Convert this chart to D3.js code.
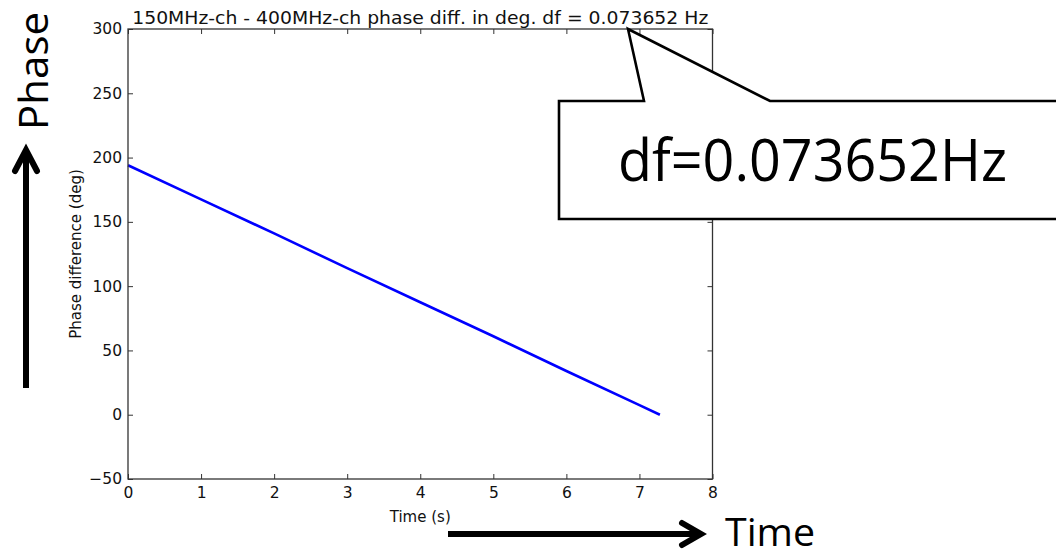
<!DOCTYPE html>
<html>
<head>
<meta charset="utf-8">
<script src="https://cdn.jsdelivr.net/npm/d3@7"></script>
<style>
  html, body { margin: 0; padding: 0; background: #fff; }
  svg { display: block; }
</style>
</head>
<body>
<svg id="chart" width="1056" height="559"></svg>
<script>
// Phase difference between the 150 MHz and 400 MHz channels over time
const timeSec = [0, 1, 2, 3, 4, 5, 6, 7, 7.28];
const phaseDeg = [194, 167.5, 141, 114, 87.5, 61, 34, 7.5, 0];

const xTicks = [0, 1, 2, 3, 4, 5, 6, 7, 8];
const yTicks = [-50, 0, 50, 100, 150, 200, 250, 300];

const titleText = "150MHz-ch - 400MHz-ch phase diff. in deg. df = 0.073652 Hz";
const xLabel = "Time (s)";
const yLabel = "Phase difference (deg)";
const calloutText = "df=0.073652Hz";
const sideLabelY = "Phase";
const sideLabelX = "Time";

const svg = d3.select("#chart");
svg.append("rect").attr("width", 1056).attr("height", 559).attr("fill", "#fff");

const plot = { left: 128, right: 712.5, top: 29, bottom: 479 };
const x = d3.scaleLinear().domain([0, 8]).range([plot.left, plot.right]);
const y = d3.scaleLinear().domain([-50, 300]).range([plot.bottom, plot.top]);

const tickFont = "'DejaVu Sans', sans-serif";

// data line
const line = d3.line().x((d, i) => x(timeSec[i])).y(d => y(d));
svg.append("path")
  .datum(phaseDeg)
  .attr("d", line)
  .attr("fill", "none")
  .attr("stroke", "#0000ff")
  .attr("stroke-width", 2.6);

// axes with inward ticks on all four sides
function styleAxis(g) {
  g.select(".domain").remove();
  g.selectAll(".tick line").attr("stroke", "#333").attr("stroke-width", 1);
  g.selectAll(".tick text")
    .attr("fill", "#111")
    .style("font-family", tickFont)
    .style("font-size", "15.5px");
}

svg.append("g")
  .attr("transform", `translate(0,${plot.bottom})`)
  .call(d3.axisBottom(x).tickValues(xTicks).tickSizeInner(-5).tickSizeOuter(0).tickPadding(8))
  .call(styleAxis);
svg.append("g")
  .attr("transform", `translate(0,${plot.top})`)
  .call(d3.axisTop(x).tickValues(xTicks).tickSizeInner(-5).tickSizeOuter(0).tickFormat(""))
  .call(styleAxis);
svg.append("g")
  .attr("transform", `translate(${plot.left},0)`)
  .call(d3.axisLeft(y).tickValues(yTicks).tickSizeInner(-5).tickSizeOuter(0).tickPadding(6))
  .call(styleAxis);
svg.append("g")
  .attr("transform", `translate(${plot.right},0)`)
  .call(d3.axisRight(y).tickValues(yTicks).tickSizeInner(-5).tickSizeOuter(0).tickFormat(""))
  .call(styleAxis);

// frame
svg.append("rect")
  .attr("x", plot.left).attr("y", plot.top)
  .attr("width", plot.right - plot.left).attr("height", plot.bottom - plot.top)
  .attr("fill", "none").attr("stroke", "#333").attr("stroke-width", 1.3);

// title and axis labels
svg.append("text")
  .attr("x", (plot.left + plot.right) / 2).attr("y", 24)
  .attr("text-anchor", "middle")
  .style("font-family", tickFont).style("font-size", "18.5px")
  .attr("fill", "#111")
  .attr("textLength", 576).attr("lengthAdjust", "spacingAndGlyphs")
  .text(titleText);

svg.append("text")
  .attr("x", (plot.left + plot.right) / 2).attr("y", 522)
  .attr("text-anchor", "middle")
  .style("font-family", tickFont).style("font-size", "15px")
  .attr("fill", "#111")
  .text(xLabel);

svg.append("text")
  .attr("transform", `translate(81,${(plot.top + plot.bottom) / 2}) rotate(-90)`)
  .attr("text-anchor", "middle")
  .style("font-family", tickFont).style("font-size", "15px")
  .attr("fill", "#111")
  .text(yLabel);

// callout box pointing at the frequency in the title
svg.append("path")
  .attr("d", "M559,101 L644,101 L628,29 L770,101 L1062,101 L1062,219 L559,219 Z")
  .attr("fill", "#fff")
  .attr("stroke", "#000")
  .attr("stroke-width", 2.6)
  .attr("stroke-linejoin", "miter");

const slideFont = "'Open Sans', 'Noto Sans', sans-serif";
svg.append("text")
  .attr("x", 618).attr("y", 181)
  .style("font-family", slideFont).style("font-size", "58px")
  .attr("fill", "#000")
  .attr("textLength", 389).attr("lengthAdjust", "spacingAndGlyphs")
  .text(calloutText);

// direction arrows with labels
const arrows = svg.append("g").attr("stroke", "#000").attr("fill", "none")
  .attr("stroke-width", 6).attr("stroke-linecap", "round").attr("stroke-linejoin", "miter");
arrows.append("line").attr("x1", 26).attr("y1", 388).attr("x2", 26).attr("y2", 152).attr("stroke-linecap", "butt");
arrows.append("polyline").attr("points", "15,171 26,150 37,171");
arrows.append("line").attr("x1", 448).attr("y1", 534).attr("x2", 698).attr("y2", 534).attr("stroke-linecap", "butt");
arrows.append("polyline").attr("points", "682,523 701,534 682,545");

svg.append("text")
  .attr("transform", "translate(48,71) rotate(-90)")
  .attr("text-anchor", "middle")
  .style("font-family", slideFont).style("font-size", "40px")
  .attr("fill", "#000")
  .attr("textLength", 118).attr("lengthAdjust", "spacingAndGlyphs")
  .text(sideLabelY);

svg.append("text")
  .attr("x", 725).attr("y", 546)
  .style("font-family", slideFont).style("font-size", "38px")
  .attr("fill", "#000")
  .attr("textLength", 90).attr("lengthAdjust", "spacingAndGlyphs")
  .text(sideLabelX);
</script>
</body>
</html>
